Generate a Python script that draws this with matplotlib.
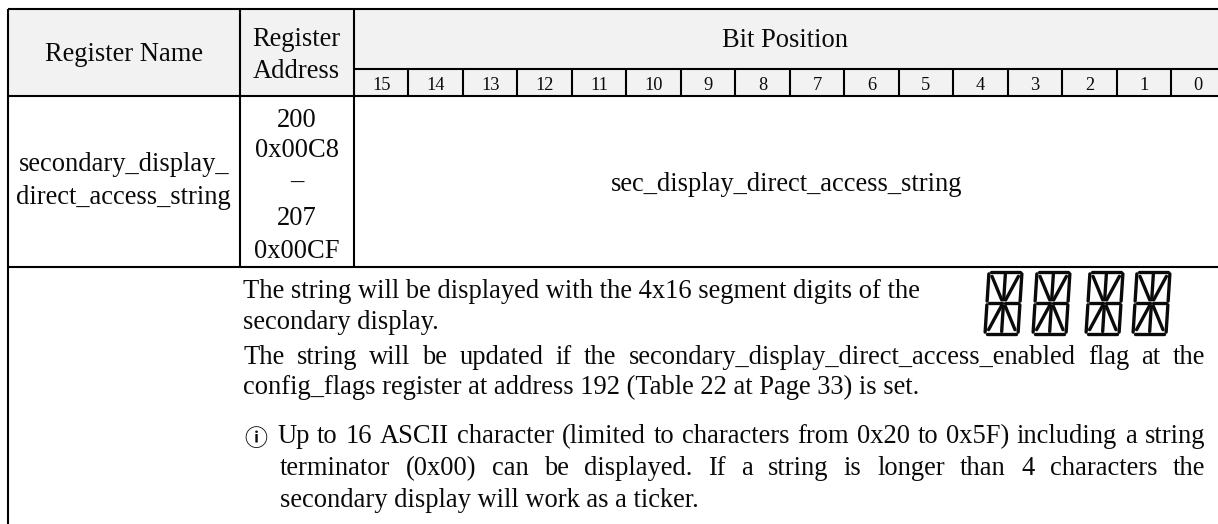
import matplotlib.pyplot as plt
from matplotlib.patches import Rectangle

plt.rcParams['font.family'] = ['Liberation Serif', 'DejaVu Sans']

# table text
bit_labels = [str(n) for n in range(15, -1, -1)]
header_name = "Register Name"
header_address = ["Register", "Address"]
header_bits = "Bit Position"
register_name = ["secondary_display_", "direct_access_string"]
register_address = ["200", "0x00C8", "\u2013", "207", "0x00CF"]
field_name = "sec_display_direct_access_string"
para_one = ["The string will be displayed with the 4x16 segment digits of the",
            "secondary display."]
para_two = ["The string will be updated if the secondary_display_direct_access_enabled flag at the",
            "config_flags register at address 192 (Table 22 at Page 33) is set."]
para_note = ["Up to 16 ASCII character (limited to characters from 0x20 to 0x5F) including a string",
             "terminator (0x00) can be displayed. If a string is longer than 4 characters the",
             "secondary display will work as a ticker."]

W, H = 1218, 524
BIG = 19.1
SMALL = 13.2
INK = '#0a0a0a'
LEFT, COL1, COL2 = 8, 239.5, 354
TOP, BITS_TOP, HEAD_BOTTOM, ROW_BOTTOM = 9, 69, 96, 267
BIT_W = 54.47
RIGHT_TEXT = 1205

fig = plt.figure(figsize=(W / 100, H / 100), dpi=100)
ax = fig.add_axes([0, 0, 1, 1])
ax.set_xlim(0, W)
ax.set_ylim(H, 0)
ax.axis('off')


def hline(y, x0=LEFT, x1=W):
    ax.plot([x0, x1], [y, y], color='black', lw=1.5, solid_capstyle='butt')


def vline(x, y0, y1):
    ax.plot([x, x], [y0, y1], color='black', lw=1.5, solid_capstyle='butt')


def centered(x, y, s, size=BIG):
    ax.text(x, y, s, ha='center', va='baseline', fontsize=size, color=INK)


def line_text(x, y, s):
    ax.text(x, y, s, ha='left', va='baseline', fontsize=BIG, color=INK)


def text_width(s, renderer):
    t = ax.text(0, 0, s, fontsize=BIG)
    w = t.get_window_extent(renderer).width
    t.remove()
    return w


def justified(x0, x1, y, s, renderer):
    words = s.split(' ')
    widths = [text_width(w, renderer) for w in words]
    gap = (x1 - x0 - sum(widths)) / (len(words) - 1)
    x = x0
    for word, w in zip(words, widths):
        line_text(x, y, word)
        x += w + gap


def segment_digit(x, y, w, h, slant=4):
    # 14 segment digit, x/y is the upper left corner
    def sheared(px, py):
        return x + slant + px * (w - slant) - py * slant, y + py * h

    segments = [((0.06, 0), (0.47, 0)), ((0.53, 0), (0.94, 0)),
                ((1, 0.03), (1, 0.47)), ((1, 0.53), (1, 0.97)),
                ((0.06, 1), (0.47, 1)), ((0.53, 1), (0.94, 1)),
                ((0, 0.03), (0, 0.47)), ((0, 0.53), (0, 0.97)),
                ((0.06, 0.5), (0.45, 0.5)), ((0.55, 0.5), (0.94, 0.5)),
                ((0.5, 0.04), (0.5, 0.45)), ((0.5, 0.55), (0.5, 0.96)),
                ((0.1, 0.07), (0.44, 0.45)), ((0.9, 0.07), (0.56, 0.45)),
                ((0.44, 0.55), (0.1, 0.93)), ((0.56, 0.55), (0.9, 0.93))]
    for a, b in segments:
        ax.plot(*zip(sheared(*a), sheared(*b)), color=INK, lw=2.4, solid_capstyle='round')


ax.add_patch(Rectangle((LEFT, TOP), W - LEFT, HEAD_BOTTOM - TOP, facecolor='#f2f2f2', edgecolor='none'))

hline(TOP)
hline(HEAD_BOTTOM)
hline(ROW_BOTTOM)
hline(BITS_TOP, COL2, W)
vline(LEFT, TOP, H)
vline(COL1, TOP, ROW_BOTTOM)
vline(COL2, TOP, ROW_BOTTOM)

centered((LEFT + COL1) / 2, 61, header_name)
for y, s in zip([46, 78], header_address):
    centered((COL1 + COL2) / 2, y, s)
centered(785, 47, header_bits)
for i, s in enumerate(bit_labels):
    x0 = COL2 + i * BIT_W
    if i:
        vline(x0, BITS_TOP, HEAD_BOTTOM)
    centered(x0 + BIT_W / 2, 90, s, SMALL)

for y, s in zip([171, 204], register_name):
    centered((LEFT + COL1) / 2, y, s)
for y, s in zip([127, 157, 189, 225, 258], register_address):
    centered((COL1 + COL2) / 2, y, s)
centered(787, 191, field_name)

fig.canvas.draw()
renderer = fig.canvas.get_renderer()

line_text(243, 298, para_one[0])
line_text(243, 329, para_one[1])
justified(243, RIGHT_TEXT, 364, para_two[0], renderer)
line_text(243, 394, para_two[1])

ax.text(244.5, 446, "\u24d8", ha='left', va='baseline', fontsize=16.5, fontweight='bold',
        family=['Noto Sans CJK JP', 'DejaVu Sans'], color=INK)
justified(277, RIGHT_TEXT, 443, para_note[0], renderer)
justified(280, RIGHT_TEXT, 475, para_note[1], renderer)
line_text(280, 507, para_note[2])

for x in [985, 1033, 1086, 1133]:
    segment_digit(x, 272, 37, 62)

fig.savefig("out.png", dpi=100)
